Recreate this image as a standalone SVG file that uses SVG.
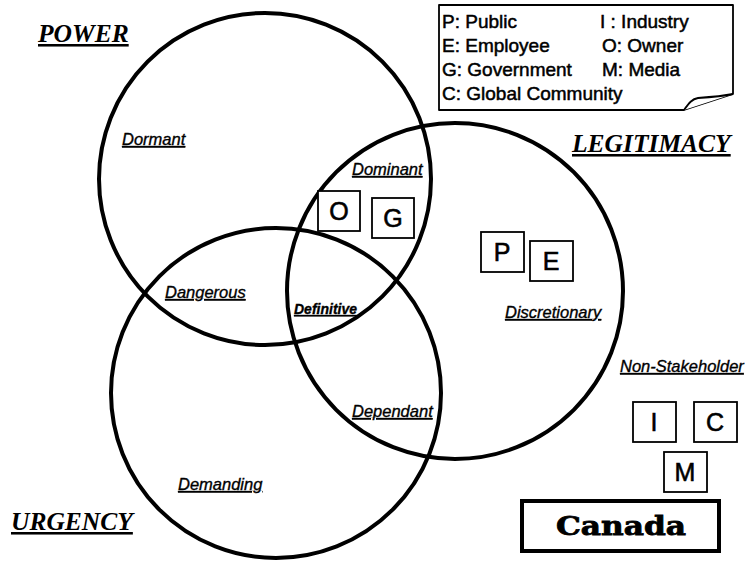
<svg xmlns="http://www.w3.org/2000/svg" width="750" height="561" viewBox="0 0 750 561">
  <style>
    .ring { fill: none; stroke: #000; stroke-width: 4; }
    .title { font-family: "Liberation Serif", "Times New Roman", serif; font-weight: bold; font-style: italic; font-size: 25.5px; text-decoration: underline; fill: #000; }
    .zone { font-family: "Liberation Sans", Arial, sans-serif; font-style: italic; font-size: 16.5px; text-decoration: underline; fill: #000; stroke: #000; stroke-width: 0.35; }
    .zone-b { font-weight: bold; font-size: 14px; }
    .tag rect { fill: #fff; stroke: #000; stroke-width: 1.8; }
    .tag text { font-family: "Liberation Sans", Arial, sans-serif; font-size: 25px; text-anchor: middle; fill: #000; stroke: #000; stroke-width: 0.6; }
    .legend text { font-family: "Liberation Sans", Arial, sans-serif; font-size: 19px; fill: #000; stroke: #000; stroke-width: 0.5; }
    .legend path { fill: #fff; stroke: #000; stroke-width: 1.8; stroke-linejoin: round; }
  </style>

  <rect width="750" height="561" fill="#fff"/>

  <!-- Attribute circles -->
  <g id="power"><circle class="ring" cx="265" cy="179" r="166"/></g>
  <g id="legitimacy"><circle class="ring" cx="455" cy="291" r="168"/></g>
  <g id="urgency"><circle class="ring" cx="276" cy="393" r="165"/></g>

  <!-- Attribute titles -->
  <g id="title-power"><text class="title" x="38" y="42">POWER</text></g>
  <g id="title-legitimacy"><text class="title" x="572" y="152">LEGITIMACY</text></g>
  <g id="title-urgency"><text class="title" x="11" y="530">URGENCY</text></g>

  <!-- Stakeholder class labels -->
  <g id="zone-dormant"><text class="zone" x="122" y="145">Dormant</text></g>
  <g id="zone-dominant"><text class="zone" x="352" y="175">Dominant</text></g>
  <g id="zone-dangerous"><text class="zone" x="165" y="298">Dangerous</text></g>
  <g id="zone-definitive"><text class="zone zone-b" x="294" y="314">Definitive</text></g>
  <g id="zone-discretionary"><text class="zone" x="505" y="318">Discretionary</text></g>
  <g id="zone-dependant"><text class="zone" x="352" y="417">Dependant</text></g>
  <g id="zone-demanding"><text class="zone" x="178" y="490">Demanding</text></g>
  <g id="zone-non"><text class="zone" x="620" y="372">Non-Stakeholder</text></g>

  <!-- Stakeholder tags -->
  <g id="tag-o" class="tag"><rect x="318" y="191" width="42" height="40"/><text x="339" y="220">O</text></g>
  <g id="tag-g" class="tag"><rect x="372" y="198" width="42" height="40"/><text x="393" y="227">G</text></g>
  <g id="tag-p" class="tag"><rect x="481" y="232" width="43" height="40"/><text x="502" y="261">P</text></g>
  <g id="tag-e" class="tag"><rect x="530" y="241" width="43" height="40"/><text x="551" y="270">E</text></g>
  <g id="tag-i" class="tag"><rect x="633" y="402" width="43" height="40"/><text x="654" y="431">I</text></g>
  <g id="tag-c" class="tag"><rect x="694" y="402" width="43" height="40"/><text x="715" y="431">C</text></g>
  <g id="tag-m" class="tag"><rect x="664" y="452" width="43" height="40"/><text x="685" y="481">M</text></g>

  <!-- Country box -->
  <g id="canada">
    <rect x="522" y="501" width="197" height="50" fill="#fff" stroke="#000" stroke-width="4"/>
    <text x="556" y="535" textLength="130" lengthAdjust="spacingAndGlyphs" font-family="'DejaVu Serif', 'Liberation Serif', serif" font-weight="bold" font-size="25.5" stroke="#000" stroke-width="0.8">Canada</text>
  </g>

  <!-- Legend note with folded corner -->
  <g id="legend" class="legend">
    <path d="M439,5 H733 V94 L684,110 H439 Z"/>
    <path d="M684,110 C689,103 692,99 698,98 C712,97 723,96 733,94"/>
    <text x="442" y="28">P: Public</text>
    <text x="600" y="28">I : Industry</text>
    <text x="442" y="52">E: Employee</text>
    <text x="602" y="52">O: Owner</text>
    <text x="442" y="76">G: Government</text>
    <text x="602" y="76">M: Media</text>
    <text x="442" y="100">C: Global Community</text>
  </g>
</svg>
